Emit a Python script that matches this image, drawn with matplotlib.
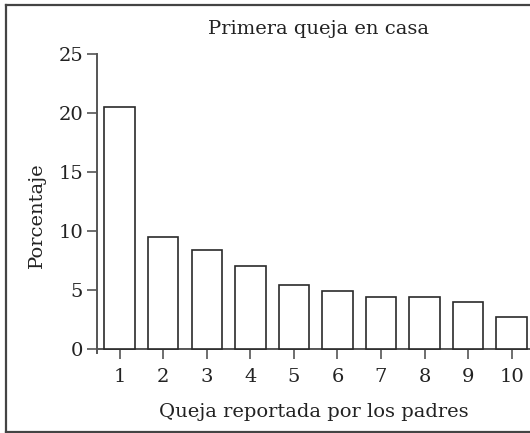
import matplotlib
matplotlib.use("Agg")
import matplotlib.pyplot as plt
from matplotlib.lines import Line2D

categories = [1, 2, 3, 4, 5, 6, 7, 8, 9, 10]
percent = [20.5, 9.5, 8.4, 7.0, 5.4, 4.9, 4.4, 4.4, 4.0, 2.7]
y_ticks = [0, 5, 10, 15, 20, 25]

plt.rcParams['font.family'] = ['DejaVu Serif']

W, H = 530, 433
fig = plt.figure(figsize=(W / 100, H / 100), dpi=100)

def fx(px):
    return px / W

def fy(py):
    return 1 - py / H

ax = fig.add_axes([fx(97), fy(353), fx(530) - fx(97), fy(54) - fy(353)])
ax.bar(categories, percent, width=0.7, facecolor='white', edgecolor='#2a2a2a',
       linewidth=1.2, zorder=3)
ax.set_xlim(0.48, 10.42)
ax.set_ylim(-0.35, 25)
ax.set_yticks(y_ticks)
ax.set_xticks(categories)

for s in ['top', 'right']:
    ax.spines[s].set_visible(False)
ax.spines['bottom'].set_position(('data', 0))
for s in ['left', 'bottom']:
    ax.spines[s].set_color('#555555')
    ax.spines[s].set_linewidth(1.4)
ax.tick_params(axis='both', colors='#555555', width=1.2, length=7, labelsize=14,
               labelcolor='#222222')
ax.tick_params(axis='y', pad=3)
ax.tick_params(axis='x', pad=7)

ax.set_xlabel('Queja reportada por los padres', fontsize=14, color='#222222', labelpad=12)
ax.set_ylabel('Porcentaje', fontsize=14, color='#222222', labelpad=10)
ax.yaxis.set_label_coords(-0.118, 0.46)
fig.text(fx(318), fy(29), 'Primera queja en casa', fontsize=14, color='#222222',
         ha='center', va='center')

# outer frame
for (x0, y0, x1, y1) in [(5.5, 4.5, 5.5, 431.5), (5.5, 4.5, 530, 4.5), (5.5, 431.5, 530, 431.5)]:
    fig.add_artist(Line2D([fx(x0), fx(x1)], [fy(y0), fy(y1)], color='#444444', lw=1.6,
                          transform=fig.transFigure))

fig.savefig('out.png', dpi=100)
